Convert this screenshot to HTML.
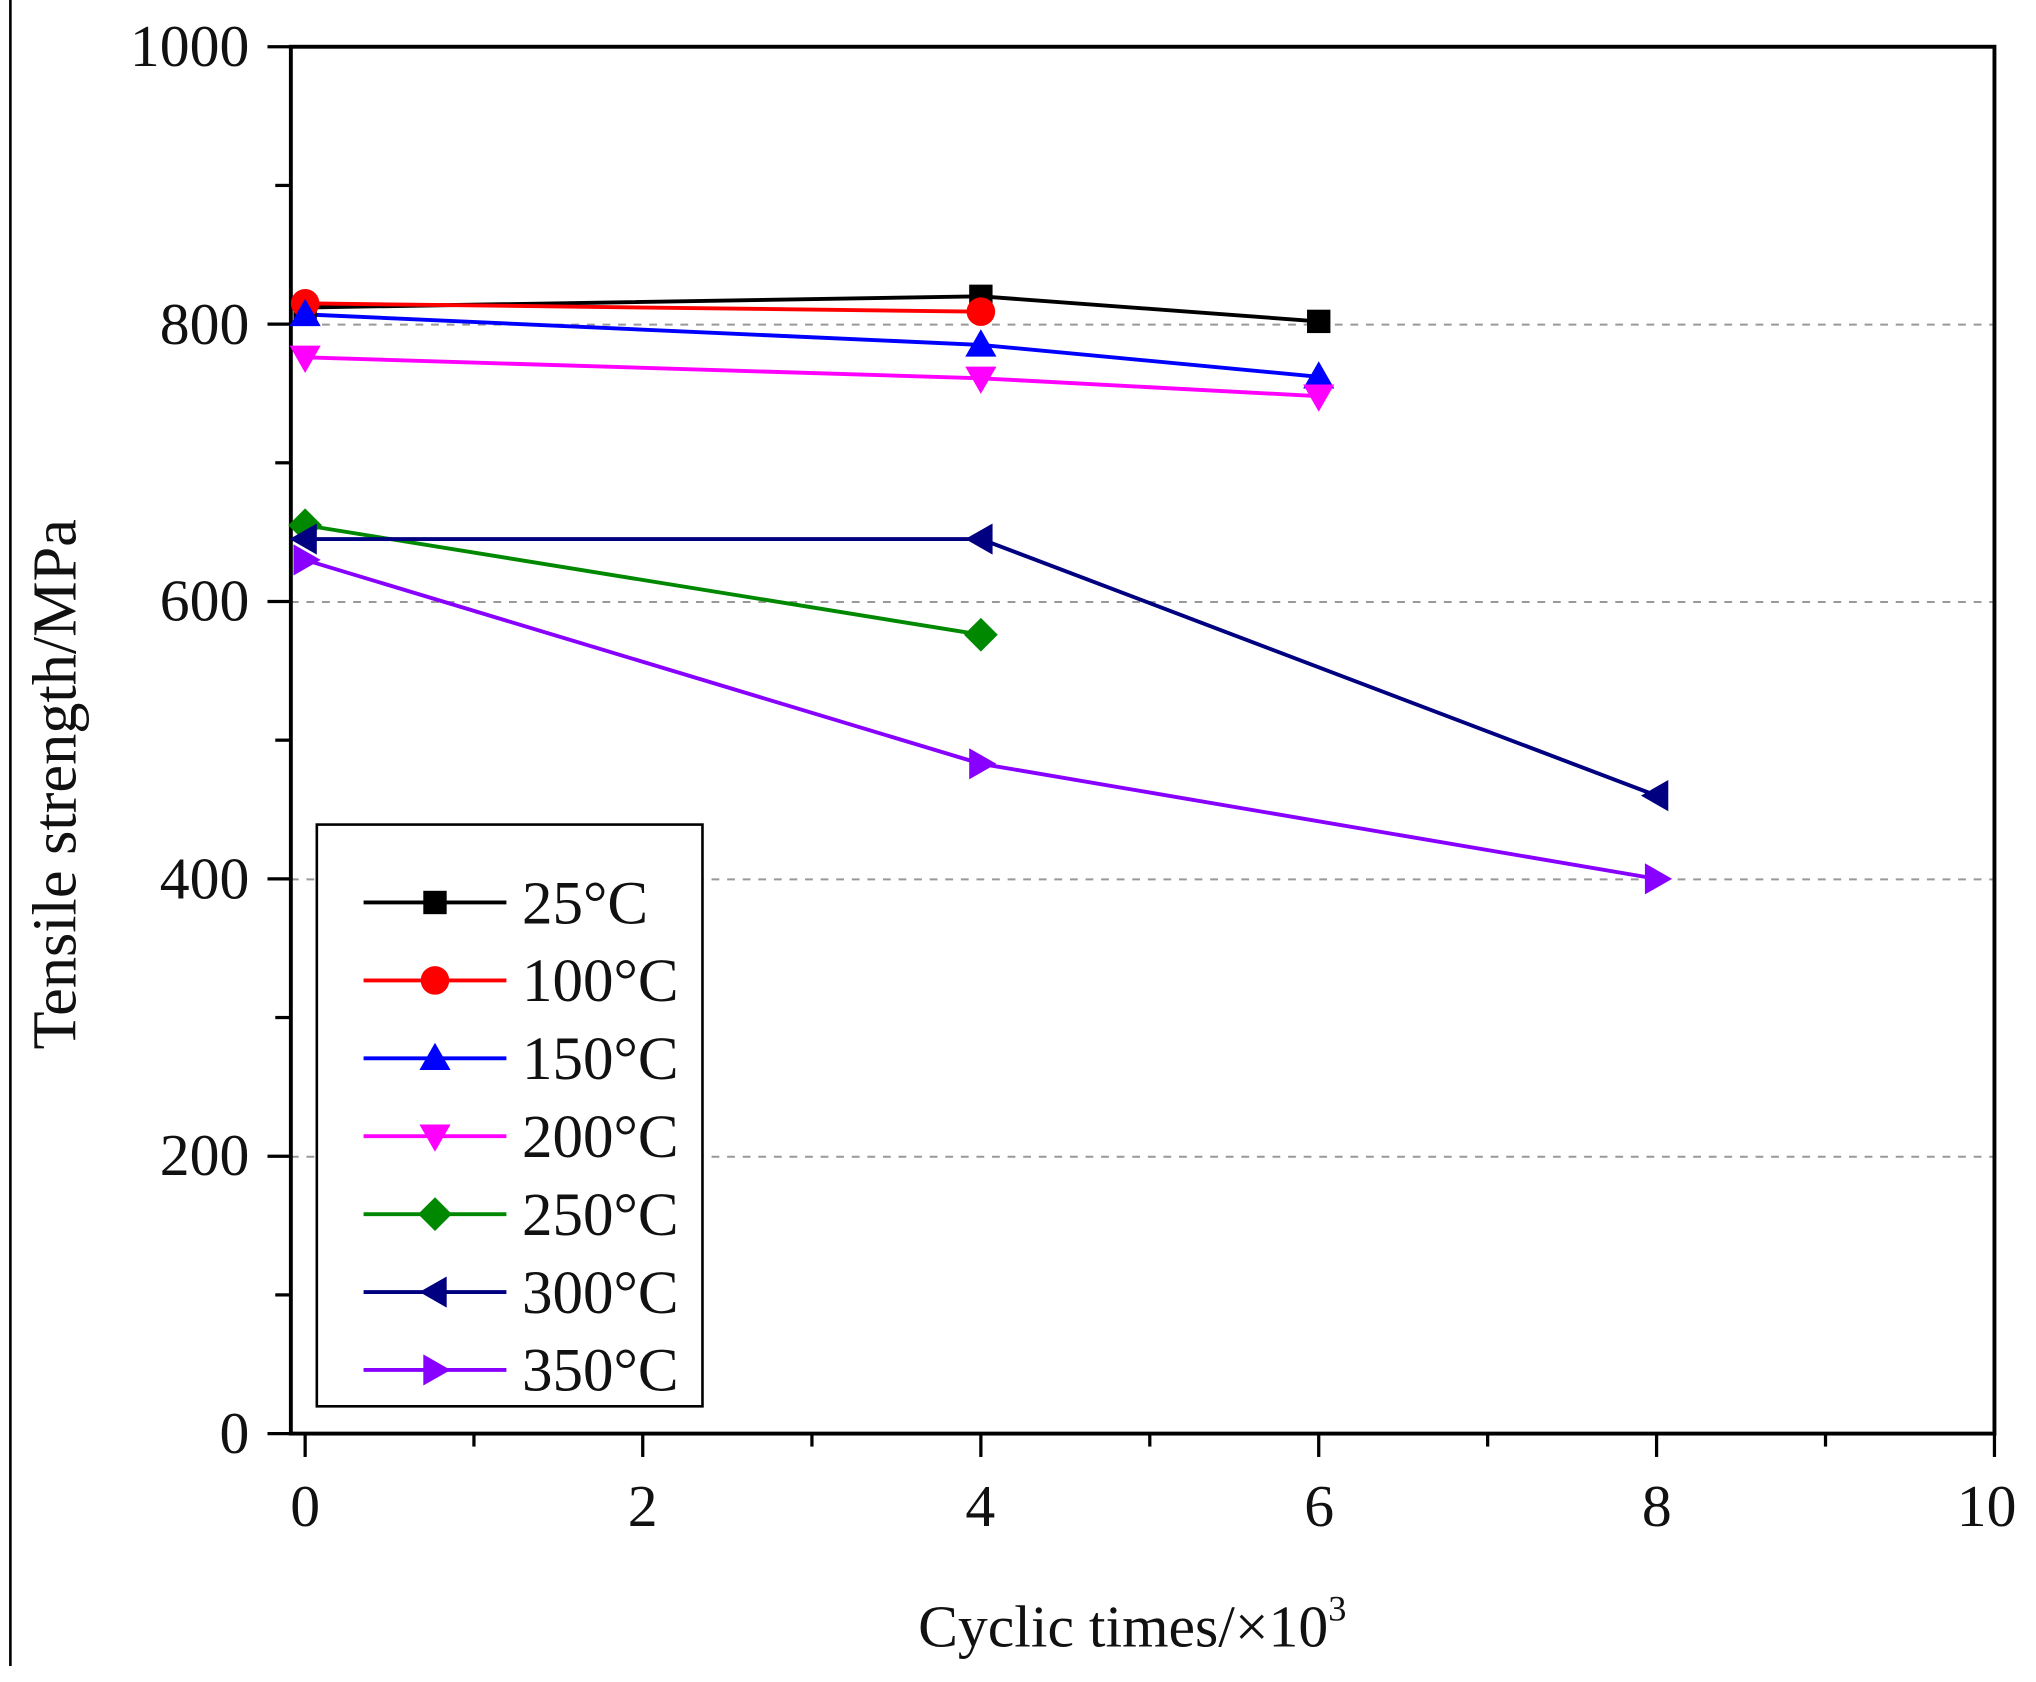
<!DOCTYPE html>
<html><head><style>body{margin:0;background:#fff}svg{display:block}</style></head><body>
<svg width="2036" height="1682" viewBox="0 0 1568 1295.3" preserveAspectRatio="none" xmlns="http://www.w3.org/2000/svg" font-family="Liberation Serif, serif">
<line x1="8" y1="0" x2="8" y2="1283" stroke="#000" stroke-width="2"/>
<g stroke="#999" stroke-width="1.5" stroke-dasharray="6,6">
<line x1="224" x2="1536" y1="250" y2="250"/><line x1="224" x2="1536" y1="463.6" y2="463.6"/><line x1="224" x2="1536" y1="677.2" y2="677.2"/><line x1="224" x2="1536" y1="890.8" y2="890.8"/>
</g>
<rect x="224" y="36" width="1312" height="1068" fill="none" stroke="#000" stroke-width="3"/>
<g stroke="#000" stroke-width="2.5">
<line x1="206" x2="224" y1="36" y2="36"/><line x1="212" x2="224" y1="142.8" y2="142.8"/><line x1="206" x2="224" y1="249.6" y2="249.6"/><line x1="212" x2="224" y1="356.4" y2="356.4"/><line x1="206" x2="224" y1="463.2" y2="463.2"/><line x1="212" x2="224" y1="570" y2="570"/><line x1="206" x2="224" y1="676.8" y2="676.8"/><line x1="212" x2="224" y1="783.6" y2="783.6"/><line x1="206" x2="224" y1="890.4" y2="890.4"/><line x1="212" x2="224" y1="997.2" y2="997.2"/><line x1="206" x2="224" y1="1104" y2="1104"/>
<line x1="235" x2="235" y1="1104" y2="1122"/><line x1="365" x2="365" y1="1104" y2="1114"/><line x1="495" x2="495" y1="1104" y2="1122"/><line x1="625.3" x2="625.3" y1="1104" y2="1114"/><line x1="755.4" x2="755.4" y1="1104" y2="1122"/><line x1="885.5" x2="885.5" y1="1104" y2="1114"/><line x1="1015.6" x2="1015.6" y1="1104" y2="1122"/><line x1="1145.7" x2="1145.7" y1="1104" y2="1114"/><line x1="1275.8" x2="1275.8" y1="1104" y2="1122"/><line x1="1405.9" x2="1405.9" y1="1104" y2="1114"/><line x1="1536" x2="1536" y1="1104" y2="1122"/>
</g>
<g font-size="46" text-anchor="end" fill="#111">
<text x="192" y="51">1000</text><text x="192" y="265">800</text><text x="192" y="478">600</text><text x="192" y="692">400</text><text x="192" y="905">200</text><text x="192" y="1119">0</text>
</g>
<g font-size="46" text-anchor="middle" fill="#111">
<text x="235" y="1175">0</text><text x="495" y="1175">2</text><text x="755" y="1175">4</text><text x="1016" y="1175">6</text><text x="1276" y="1175">8</text><text x="1530" y="1175">10</text>
</g>
<text x="872" y="1268" font-size="46" text-anchor="middle" fill="#111">Cyclic times/×10<tspan dy="-20" font-size="28">3</tspan></text>
<text transform="translate(58,604) rotate(-90)" font-size="48" text-anchor="middle" fill="#111">Tensile strength/MPa</text>
<defs>
<rect id="sq" x="-9" y="-9" width="18" height="18"/>
<circle id="ci" r="11"/>
<polygon id="up" points="0,-12 12,9 -12,9"/>
<polygon id="dn" points="0,12 12,-9 -12,-9"/>
<polygon id="di" points="0,-13 13,0 0,13 -13,0"/>
<polygon id="lf" points="-12,0 9,-12 9,12"/>
<polygon id="rt" points="12,0 -9,-12 -9,12"/>
</defs>
<g stroke-width="3" fill="none">
<polyline stroke="#000" points="235,236.8 755.4,228.2 1015.6,247.5"/>
<polyline stroke="#f00" points="235,233.6 755.4,240"/>
<polyline stroke="#00f" points="235,242.1 755.4,265.6 1015.6,290.2"/>
<polyline stroke="#f0f" points="235,275.2 755.4,291.3 1015.6,305.1"/>
<polyline stroke="#080" points="235,404.5 755.4,488.8"/>
<polyline stroke="#000080" points="235,415.1 755.4,415.1 1275.8,612.7"/>
<polyline stroke="#80f" points="235,431.2 755.4,588.2 1275.8,676.8"/>
</g>
<g fill="#000"><use href="#sq" x="235" y="236.8"/><use href="#sq" x="755.4" y="228.2"/><use href="#sq" x="1015.6" y="247.5"/></g>
<g fill="#f00"><use href="#ci" x="235" y="233.6"/><use href="#ci" x="755.4" y="240"/></g>
<g fill="#00f"><use href="#up" x="235" y="242.1"/><use href="#up" x="755.4" y="265.6"/><use href="#up" x="1015.6" y="290.2"/></g>
<g fill="#f0f"><use href="#dn" x="235" y="275.2"/><use href="#dn" x="755.4" y="291.3"/><use href="#dn" x="1015.6" y="305.1"/></g>
<g fill="#080"><use href="#di" x="235" y="404.5"/><use href="#di" x="755.4" y="488.8"/></g>
<g fill="#000080"><use href="#lf" x="235" y="415.1"/><use href="#lf" x="755.4" y="415.1"/><use href="#lf" x="1275.8" y="612.7"/></g>
<g fill="#80f"><use href="#rt" x="235" y="431.2"/><use href="#rt" x="755.4" y="588.2"/><use href="#rt" x="1275.8" y="676.8"/></g>
<rect x="244" y="635" width="297" height="448" fill="#fff" stroke="#000" stroke-width="2"/>
<g stroke-width="3">
<line x1="280" x2="390" y1="695" y2="695" stroke="#000"/><use href="#sq" x="335" y="695" fill="#000"/>
<line x1="280" x2="390" y1="755" y2="755" stroke="#f00"/><use href="#ci" x="335" y="755" fill="#f00"/>
<line x1="280" x2="390" y1="815" y2="815" stroke="#00f"/><use href="#up" x="335" y="815" fill="#00f"/>
<line x1="280" x2="390" y1="875" y2="875" stroke="#f0f"/><use href="#dn" x="335" y="875" fill="#f0f"/>
<line x1="280" x2="390" y1="935" y2="935" stroke="#080"/><use href="#di" x="335" y="935" fill="#080"/>
<line x1="280" x2="390" y1="995" y2="995" stroke="#000080"/><use href="#lf" x="335" y="995" fill="#000080"/>
<line x1="280" x2="390" y1="1055" y2="1055" stroke="#80f"/><use href="#rt" x="335" y="1055" fill="#80f"/>
</g>
<g font-size="47" fill="#111">
<text x="402" y="711">25°C</text><text x="402" y="771">100°C</text><text x="402" y="831">150°C</text><text x="402" y="891">200°C</text><text x="402" y="951">250°C</text><text x="402" y="1011">300°C</text><text x="402" y="1071">350°C</text>
</g>
</svg>
</body></html>
